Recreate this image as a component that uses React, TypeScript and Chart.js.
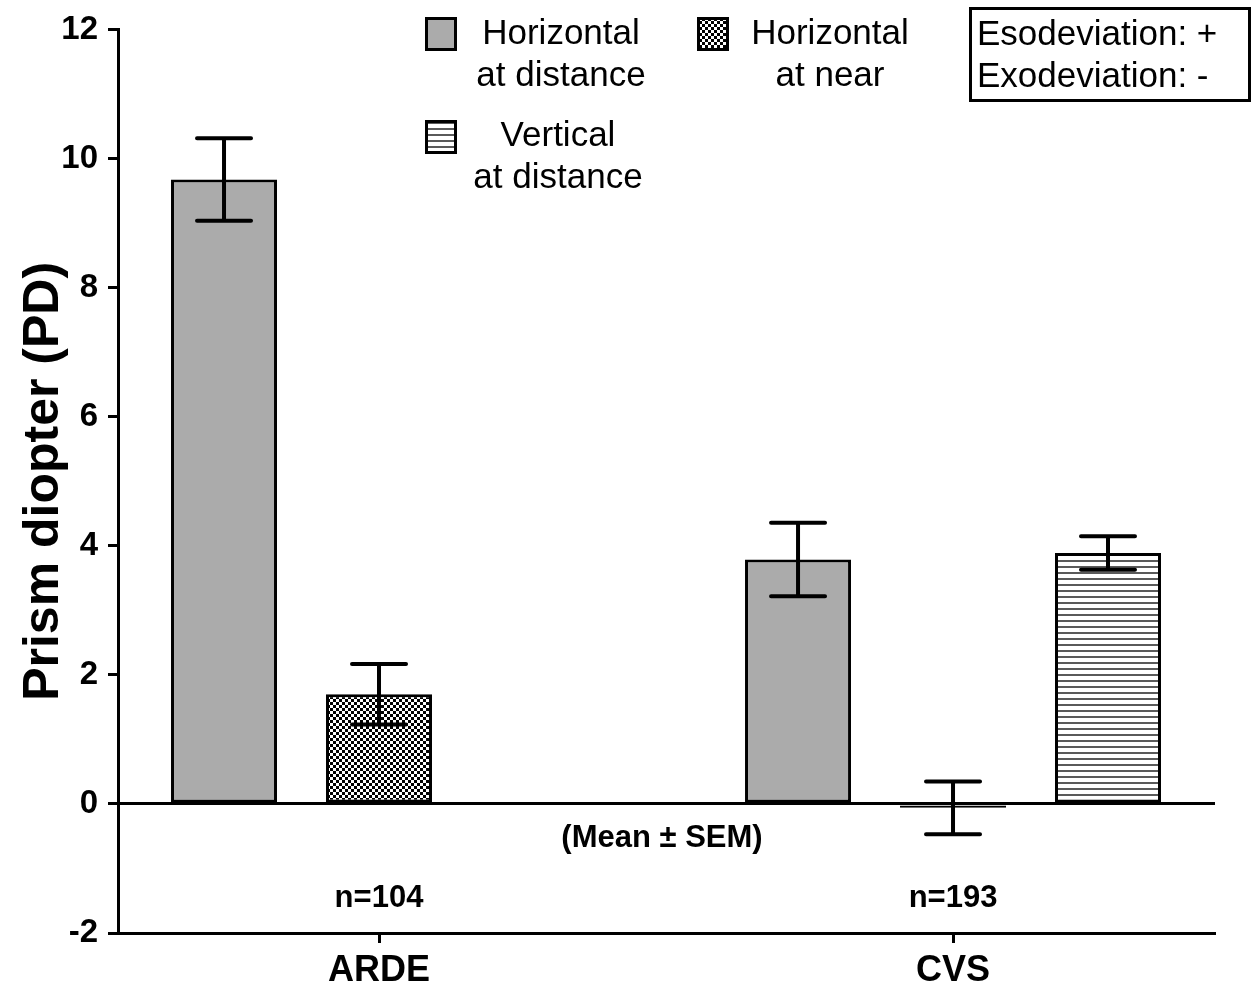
import React, { useEffect, useRef } from 'react';
import { Chart, registerables } from 'chart.js';

Chart.register(...registerables);

const categories = ['ARDE', 'CVS'];
const seriesLines = [
  ['Horizontal', 'at distance'],
  ['Horizontal', 'at near'],
  ['Vertical', 'at distance'],
];
const horizDistMean = [9.68, 3.79];
const horizDistSem = [0.64, 0.57];
const horizNearMean = [1.7, -0.06];
const horizNearSem = [0.47, 0.41];
const vertDistMean: (number | null)[] = [null, 3.89];
const vertDistSem: (number | null)[] = [null, 0.26];
const sampleSizes = ['n=104', 'n=193'];
const yTicks = [-2, 0, 2, 4, 6, 8, 10, 12];
const noteLines = ['Esodeviation: +', 'Exodeviation: -'];
const statNote = '(Mean ± SEM)';

const FONT = '"Liberation Sans", Arial, Helvetica, sans-serif';
const GRAY = '#ababab';

function makeChecker(): CanvasPattern | string {
  const c = document.createElement('canvas');
  c.width = 6; c.height = 6;
  const g = c.getContext('2d');
  if (!g) return '#777';
  g.fillStyle = '#fff'; g.fillRect(0, 0, 6, 6);
  g.fillStyle = '#000'; g.fillRect(0, 0, 3, 3); g.fillRect(3, 3, 3, 3);
  return g.createPattern(c, 'repeat') || '#777';
}
function makeStripes(): CanvasPattern | string {
  const c = document.createElement('canvas');
  c.width = 6; c.height = 6;
  const g = c.getContext('2d');
  if (!g) return '#ccc';
  g.fillStyle = '#fff'; g.fillRect(0, 0, 6, 6);
  g.fillStyle = '#5a5a5a'; g.fillRect(0, 2, 6, 2);
  return g.createPattern(c, 'repeat') || '#ccc';
}

export default function App() {
  const ref = useRef<HTMLCanvasElement | null>(null);
  useEffect(() => {
    if (!ref.current) return;
    const checker = makeChecker();
    const stripes = makeStripes();
    const fills = [GRAY, checker, stripes];
    const means = [horizDistMean, horizNearMean, vertDistMean];
    const sems = [horizDistSem, horizNearSem, vertDistSem];

    const overlay = {
      id: 'overlay',
      afterDatasetsDraw(chart: any) {
        const ctx = chart.ctx;
        const ys = chart.scales.y;
        ctx.save();
        ctx.strokeStyle = '#000';
        ctx.lineWidth = 4;
        ctx.lineCap = 'round';
        means.forEach((m, di) => {
          const meta = chart.getDatasetMeta(di);
          m.forEach((v, i) => {
            const s = sems[di][i];
            if (v === null || s === null) return;
            const el = meta.data[i];
            const x = el.x;
            const yt = ys.getPixelForValue((v as number) + (s as number));
            const yb = ys.getPixelForValue((v as number) - (s as number));
            ctx.beginPath();
            ctx.moveTo(x, yt); ctx.lineTo(x, yb);
            ctx.moveTo(x - 27, yt); ctx.lineTo(x + 27, yt);
            ctx.moveTo(x - 27, yb); ctx.lineTo(x + 27, yb);
            ctx.stroke();
          });
        });
        ctx.restore();
      },
      afterDraw(chart: any) {
        const ctx = chart.ctx;
        const xs = chart.scales.x;
        const ys = chart.scales.y;
        ctx.save();
        ctx.fillStyle = '#000';
        ctx.textBaseline = 'middle';
        ctx.font = `bold 31px ${FONT}`;
        ctx.textAlign = 'center';
        sampleSizes.forEach((t, i) => {
          ctx.fillText(t, xs.getPixelForValue(i), ys.getPixelForValue(-1.47));
        });
        ctx.fillText(statNote, xs.getPixelForValue(0.493), ys.getPixelForValue(-0.54));
        const boxes = [
          { bx: 425, by: 17, tx: 561, ty: 34 },
          { bx: 697, by: 17, tx: 830, ty: 34 },
          { bx: 425, by: 120, tx: 558, ty: 136 },
        ];
        ctx.font = `35px ${FONT}`;
        boxes.forEach((b, i) => {
          ctx.fillStyle = fills[i];
          ctx.fillRect(b.bx, b.by, 32, 34);
          ctx.strokeStyle = '#000';
          ctx.lineWidth = 3;
          ctx.strokeRect(b.bx + 1.5, b.by + 1.5, 29, 31);
          ctx.fillStyle = '#000';
          seriesLines[i].forEach((line, k) => {
            ctx.fillText(line, b.tx, b.ty + k * 42);
          });
        });
        ctx.lineWidth = 3;
        ctx.strokeStyle = '#000';
        ctx.strokeRect(970.5, 8.5, 279, 92);
        ctx.textAlign = 'left';
        noteLines.forEach((line, k) => {
          ctx.fillText(line, 977, 35 + k * 42);
        });
        ctx.restore();
      },
    };

    const chart = new Chart(ref.current, {
      type: 'bar',
      data: {
        datasets: means.map((m, di) => ({
          label: seriesLines[di].join(' '),
          data: categories.map((_, i) => ({ x: i, y: m[i] })),
          backgroundColor: fills[di] as any,
          borderColor: '#000',
          borderWidth: 3,
          borderSkipped: false,
        })),
      },
      options: {
        animation: false,
        responsive: false,
        maintainAspectRatio: false,
        layout: { padding: { top: 28, right: 44, left: 0, bottom: 0 } },
        plugins: { legend: { display: false }, tooltip: { enabled: false } },
        datasets: { bar: { categoryPercentage: 0.81, barPercentage: 0.684 } },
        scales: {
          x: {
            type: 'linear',
            offset: false,
            min: -0.4547,
            max: 1.4564,
            afterBuildTicks: (s: any) => { s.ticks = categories.map((_, i) => ({ value: i })); },
            afterFit: (s: any) => { s.height = 57; },
            ticks: {
              callback: (v: any) => categories[v] ?? '',
              font: { family: FONT, size: 36, weight: 'bold' },
              color: '#000',
              padding: 6,
              maxRotation: 0,
              autoSkip: false,
            },
            grid: { offset: false, drawOnChartArea: false, drawTicks: true, tickLength: 10, tickColor: '#000', tickWidth: 3 },
            border: { color: '#000', width: 3 },
          },
          y: {
            min: -2,
            max: 12,
            afterBuildTicks: (s: any) => { s.ticks = yTicks.map((v) => ({ value: v })); },
            afterFit: (s: any) => { s.width = 118; },
            ticks: {
              font: { family: FONT, size: 33, weight: 'bold' },
              color: '#000',
              padding: 10,
            },
            grid: {
              color: (c: any) => (c.tick && c.tick.value === 0 ? '#000' : 'rgba(0,0,0,0)'),
              lineWidth: 3,
              tickLength: 10,
              tickColor: '#000',
              tickWidth: 3,
            },
            border: { color: '#000', width: 3 },
            title: {
              display: true,
              text: 'Prism diopter (PD)',
              font: { family: FONT, size: 50, weight: 'bold' },
              color: '#000',
              padding: { top: 14, bottom: 0 },
            },
          },
        },
      } as any,
      plugins: [overlay],
    });
    return () => chart.destroy();
  }, []);

  return (
    <div style={{ position: 'fixed', left: 0, top: 0, width: 1259, height: 990, background: '#fff' }}>
      <canvas ref={ref} width={1259} height={990} style={{ display: 'block', width: 1259, height: 990 }} />
    </div>
  );
}
